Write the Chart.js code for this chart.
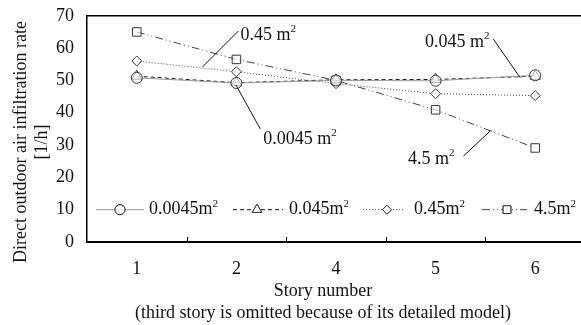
<!DOCTYPE html>
<html>
<head>
<meta charset="utf-8">
<script src="https://cdn.jsdelivr.net/npm/chart.js@4"></script>
<style>
  html, body { margin: 0; padding: 0; background: #fff; overflow: hidden; }
  #wrap { width: 592px; height: 325px; }
</style>
</head>
<body>
<div id="wrap"><canvas id="myChart"></canvas></div>
<script>
const stories = ['1', '2', '4', '5', '6'];
const area0045 = [50.8, 49.2, 50.0, 49.9, 51.6];
const area045 = [51.3, 49.3, 50.2, 50.3, 51.3];
const area045b = [56.0, 52.7, 49.0, 45.9, 45.3];
const area45 = [65.0, 56.5, 50.0, 40.9, 29.1];
const yTicks = [0, 10, 20, 30, 40, 50, 60, 70];

const serif = '"Liberation Serif", "Times New Roman", serif';

// label texts, anchored in data units (x = category index, y = value)
const notes = [
    { text: '0.45 m', x: 1.04, y: 64.0, align: 'left', from: [0.66, 54.2], to: [1.02, 65.3] },
    { text: '0.0045 m', x: 1.27, y: 31.9, align: 'left', from: [0.995, 48.6], to: [1.24, 35.0] },
    { text: '0.045 m', x: 3.54, y: 61.9, align: 'right', from: [3.58, 62.8], to: [3.85, 50.8] },
    { text: '4.5 m', x: 3.19, y: 25.7, align: 'right', from: [3.28, 26.6], to: [3.55, 34.4] }
];

const series = [
    { label: '0.0045m', data: area0045, color: '#9a9a9a', dash: [], point: 'circle', r: 5.5 },
    { label: '0.045m', data: area045, color: '#111', dash: [4, 3], point: 'triangle', r: 6 },
    { label: '0.45m', data: area045b, color: '#444', dash: [1, 2], point: 'rectRot', r: 5 },
    { label: '4.5m', data: area45, color: '#444', dash: [8, 3, 1, 3, 1, 3], point: 'rect', r: 6 }
];

// text with a raised "2"
function drawSq(c, text, x, y, align, size) {
    c.font = size + 'px ' + serif;
    const w = c.measureText(text).width;
    c.font = Math.round(size * 0.6) + 'px ' + serif;
    const w2 = c.measureText('2').width;
    const left = align === 'right' ? x - w - w2 : x;
    c.textAlign = 'left';
    c.font = size + 'px ' + serif;
    c.fillText(text, left, y);
    c.font = Math.round(size * 0.6) + 'px ' + serif;
    c.fillText('2', left + w, y - size * 0.32);
}

const extras = {
    id: 'extras',
    afterDatasetsDraw(chart) {
        const c = chart.ctx;
        const xs = chart.scales.x, ys = chart.scales.y;
        const area = chart.chartArea;
        const px = i => xs.getPixelForValue(0) + i * (xs.getPixelForValue(1) - xs.getPixelForValue(0));
        c.save();
        // top frame line
        c.strokeStyle = '#000';
        c.lineWidth = 1.5;
        c.beginPath();
        c.moveTo(area.left, area.top);
        c.lineTo(chart.width, area.top);
        c.stroke();
        // small inward ticks between categories
        c.lineWidth = 1;
        for (let i = 0; i < stories.length - 1; i++) {
            const x = Math.round(px(i + 0.5)) + 0.5;
            c.beginPath();
            c.moveTo(x, area.bottom);
            c.lineTo(x, area.bottom - 5);
            c.stroke();
        }
        // annotations
        c.fillStyle = '#111';
        c.textBaseline = 'middle';
        notes.forEach(n => {
            c.strokeStyle = '#111';
            c.lineWidth = 1;
            c.setLineDash([]);
            c.beginPath();
            c.moveTo(px(n.from[0]), ys.getPixelForValue(n.from[1]));
            c.lineTo(px(n.to[0]), ys.getPixelForValue(n.to[1]));
            c.stroke();
            drawSq(c, n.text, px(n.x), ys.getPixelForValue(n.y), n.align, 18);
        });
        // legend at value 10
        const ly = ys.getPixelForValue(10);
        const items = [
            { x0: 96, x1: 144, mx: 120, tx: 149 },
            { x0: 233, x1: 283, mx: 257, tx: 289 },
            { x0: 363, x1: 403, mx: 387, tx: 414 },
            { x0: 482, x1: 527, mx: 507, tx: 534 }
        ];
        series.forEach((s, k) => {
            const it = items[k];
            c.strokeStyle = s.color;
            c.lineWidth = 1;
            c.setLineDash(s.dash);
            c.beginPath();
            c.moveTo(it.x0, ly);
            c.lineTo(it.x1, ly);
            c.stroke();
            c.setLineDash([]);
            c.fillStyle = '#fff';
            c.strokeStyle = '#333';
            Chart.helpers.drawPoint(c, { pointStyle: s.point, radius: s.r - 0.5, borderWidth: 1 }, it.mx, ly);
            c.fill();
            c.stroke();
            c.fillStyle = '#111';
            drawSq(c, s.label, it.tx, ly, 'left', 18);
        });
        // x axis title
        c.textAlign = 'center';
        c.font = '18px ' + serif;
        c.fillText('Story number', 323, 291);
        c.fillText('(third story is omitted because of its detailed model)', 323, 313);
        // y axis title
        c.translate(0, 142);
        c.rotate(-Math.PI / 2);
        c.fillText('Direct outdoor air infiltration rate', 0, 21);
        c.fillText('[1/h]', 0, 42);
        c.restore();
    }
};

const ctx = document.getElementById('myChart').getContext('2d');
const myChart = new Chart(ctx, {
    type: 'line',
    data: {
        labels: stories,
        datasets: series.map(s => ({
            label: s.label,
            data: s.data,
            borderColor: s.color,
            borderWidth: 1,
            borderDash: s.dash,
            pointStyle: s.point,
            pointRadius: s.r,
            pointBackgroundColor: 'rgba(255,255,255,0.6)',
            pointBorderColor: '#333',
            pointBorderWidth: 1,
            tension: 0
        }))
    },
    options: {
        responsive: true,
        maintainAspectRatio: false,
        animation: false,
        layout: { padding: { top: 2, right: 0, left: 0, bottom: 0 } },
        plugins: {
            legend: { display: false },
            tooltip: { enabled: false }
        },
        scales: {
            x: {
                offset: true,
                grid: { display: false },
                border: { display: true, color: '#000', width: 2 },
                ticks: { color: '#111', font: { family: serif, size: 18 }, padding: 8 },
                afterFit(s) { s.height = 83; s.paddingRight = 0; s.paddingLeft = 0; }
            },
            y: {
                min: 0,
                max: 70,
                afterBuildTicks(s) { s.ticks = yTicks.map(v => ({ value: v })); },
                grid: { display: false },
                border: { display: true, color: '#000', width: 1.5 },
                ticks: { color: '#111', font: { family: serif, size: 18 }, padding: 5 },
                afterFit(s) { s.width = 87; }
            }
        }
    },
    plugins: [extras]
});
</script>
</body>
</html>
